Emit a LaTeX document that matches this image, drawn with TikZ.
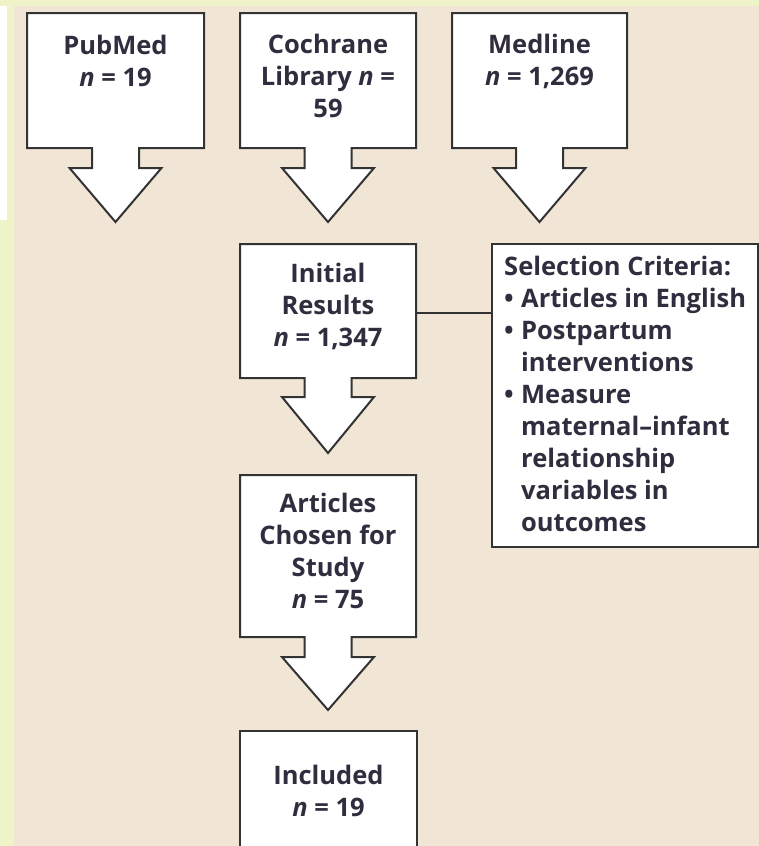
\documentclass[tikz,border=0pt]{standalone}
\usepackage{fontspec}
\setmainfont{Open Sans}
\definecolor{ylw}{HTML}{EEF4C8}
\definecolor{beige}{HTML}{F1E6D6}
\definecolor{edge}{HTML}{333333}
\definecolor{ink}{HTML}{2E2E3E}
\tikzset{
  boxline/.style={draw=edge, line width=2pt, fill=white, line join=miter},
  lbl/.style={inner sep=0pt, anchor=north, align=center, text=ink, font=\fontsize{25.5}{32}\selectfont\bfseries},
  crit/.style={inner sep=0pt, anchor=north west, align=left, text=ink, font=\fontsize{25.5}{32}\selectfont\bfseries},
}
\newcommand{\arrbox}[6]{%
  \pgfmathsetmacro\cx{(#1+#3)/2}%
  \draw[boxline] (#1,#2) -- (#3,#2) -- (#3,#4) -- (\cx+23.5,#4) -- (\cx+23.5,#5)
    -- (\cx+46,#5) -- (\cx,#6) -- (\cx-46,#5) -- (\cx-23.5,#5) -- (\cx-23.5,#4)
    -- (#1,#4) -- cycle;}
\newcommand{\bul}{\makebox[17pt][l]{•}}
\begin{document}
\begin{tikzpicture}[x=1pt,y=-1pt]
\useasboundingbox (0,0) rectangle (759,846);
\fill[ylw] (0,0) rectangle (759,846);
\fill[beige] (14,6) rectangle (759,846);
\fill[white] (0,6) rectangle (7,220);

% source boxes
\arrbox{27}{13}{204}{148}{168}{222}
\arrbox{240}{13}{416}{148}{168}{222}
\arrbox{452}{13}{627}{148}{168}{222}
\node[lbl] (pubmed) at (115.5,35) {PubMed\\\textit{n} = 19};
\node[lbl] (cochrane) at (328,34) {Cochrane\\Library \textit{n} =\\59};
\node[lbl] (medline) at (539.5,34) {Medline\\\textit{n} = 1,269};

% initial results
\arrbox{240}{244}{416}{378}{397}{453}
\node[lbl] (initial) at (328,263) {Initial\\Results\\\textit{n} = 1,347};
\coordinate (initR) at (416,313);

% selection criteria
\node[draw=edge, line width=2pt, fill=white, minimum width=266pt, minimum height=303pt, inner sep=0pt] (sel) at (625,395.5) {};
\node[crit] (seltext) at (504,256) {Selection Criteria:\\
\bul Articles in English\\
\bul Postpartum\\
\hspace*{17pt}interventions\\
\bul Measure\\
\hspace*{17pt}maternal–infant\\
\hspace*{17pt}relationship\\
\hspace*{17pt}variables in\\
\hspace*{17pt}outcomes};
\draw[draw=edge, line width=2pt] (initR) -- (initR -| sel.west);

% articles chosen
\arrbox{240}{475}{416}{637}{657}{710}
\node[lbl] (chosen) at (328,493) {Articles\\Chosen for\\Study\\\textit{n} = 75};

% included
\draw[boxline] (240,900) -- (240,731) -- (417,731) -- (417,900);
\node[lbl] (included) at (328.5,765) {Included\\\textit{n} = 19};
\end{tikzpicture}
\end{document}
